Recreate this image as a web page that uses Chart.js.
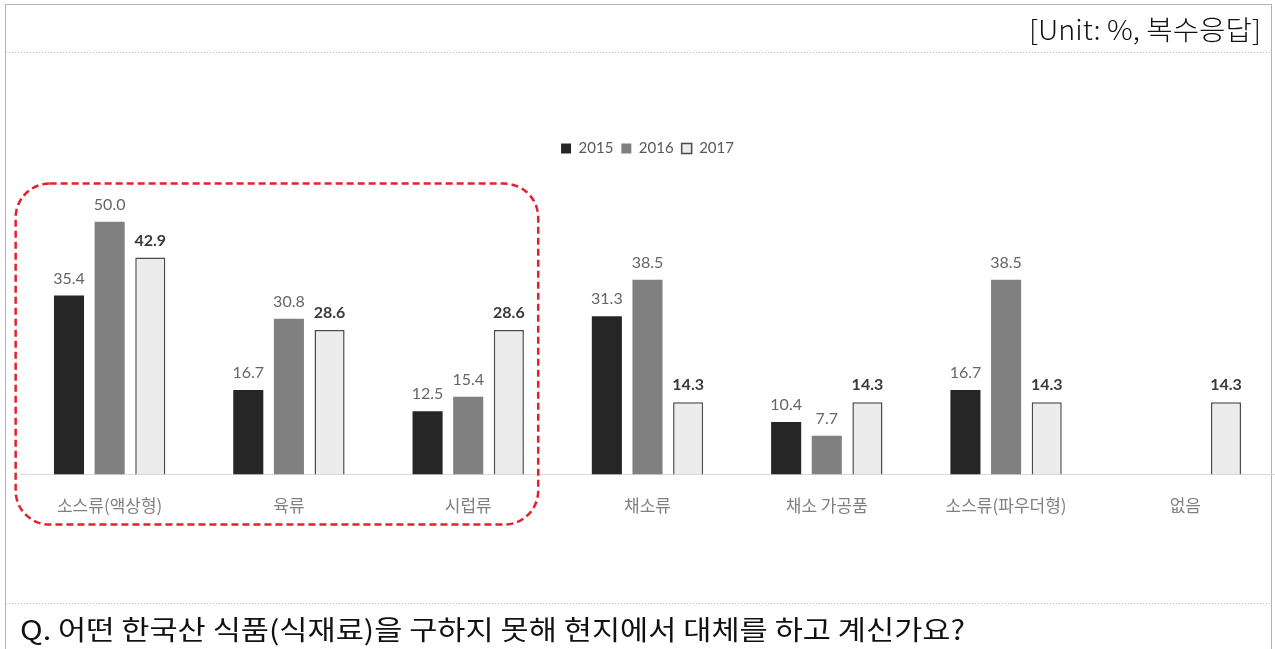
<!DOCTYPE html>
<html>
<head>
<meta charset="utf-8">
<script src="https://cdn.jsdelivr.net/npm/chart.js@4/dist/chart.umd.min.js"></script>
<style>
  html, body { margin: 0; padding: 0; background: #fff; }
  #wrap { position: relative; width: 1275px; height: 649px; }
</style>
</head>
<body>
<div id="wrap"><canvas id="c" width="1275" height="649"></canvas></div>
<script>
// Survey: Korean foods replaced with local substitutes (multiple answers, %)
const categories = ['소스류(액상형)', '육류', '시럽류', '채소류', '채소 가공품', '소스류(파우더형)', '없음'];
const years = ['2015', '2016', '2017'];
const values2015 = [35.4, 16.7, 12.5, 31.3, 10.4, 16.7, null];
const values2016 = [50.0, 30.8, 15.4, 38.5, 7.7, 38.5, null];
const values2017 = [42.9, 28.6, 28.6, 14.3, 14.3, 14.3, 14.3];
const unitNote = '[Unit: %, 복수응답]';
const question = 'Q. 어떤 한국산 식품(식재료)을 구하지 못해 현지에서 대체를 하고 계신가요?';

const KR = '"Noto Sans CJK KR", "Noto Sans", sans-serif';
const NUM = 'Lato, "Noto Sans", sans-serif';

// Text squeezed horizontally to a given width
function fitText(ctx, text, x, y, width, font, color, align) {
  ctx.save();
  ctx.font = font;
  ctx.fillStyle = color;
  ctx.textBaseline = 'middle';
  const w = ctx.measureText(text).width;
  const s = width / w;
  const x0 = align === 'right' ? x - width : x;
  ctx.translate(x0, y);
  ctx.scale(s, 1);
  ctx.textAlign = 'left';
  ctx.fillText(text, 0, 0);
  ctx.restore();
}

// Page frame, header note, separators and footer question
const framePlugin = {
  id: 'frame',
  beforeDraw(chart) {
    const ctx = chart.ctx;
    ctx.save();
    ctx.fillStyle = '#ffffff';
    ctx.fillRect(0, 0, chart.width, chart.height);
    ctx.strokeStyle = '#b4b4b4';
    ctx.lineWidth = 1;
    ctx.strokeRect(5.5, 4.5, 1266, 660);
    ctx.strokeStyle = '#bdbdbd';
    ctx.setLineDash([1, 2]);
    ctx.beginPath();
    ctx.moveTo(6, 52.5); ctx.lineTo(1271, 52.5);
    ctx.moveTo(6, 603.5); ctx.lineTo(1271, 603.5);
    ctx.stroke();
    ctx.restore();
    fitText(ctx, unitNote, 1261, 30, 232, '300 27px ' + KR, '#111', 'right');
    fitText(ctx, question, 20, 630, 945, '27px ' + KR, '#111', 'left');
  }
};

// Value labels above bars and the dashed highlight around the first three groups
const overlayPlugin = {
  id: 'overlay',
  afterDatasetsDraw(chart) {
    const ctx = chart.ctx;
    ctx.save();
    ctx.textAlign = 'center';
    ctx.textBaseline = 'alphabetic';
    chart.data.datasets.forEach((ds, di) => {
      const meta = chart.getDatasetMeta(di);
      meta.data.forEach((bar, i) => {
        const v = ds.data[i];
        if (v === null || v === undefined) return;
        if (di === 2) {
          ctx.font = 'bold 16px ' + NUM;
          ctx.fillStyle = '#3a3a3a';
        } else {
          ctx.font = '16px ' + NUM;
          ctx.fillStyle = '#666666';
        }
        ctx.fillText(v.toFixed(1), bar.x, bar.y - 12);
      });
    });

    const xs = chart.scales.x;
    const ys = chart.scales.y;
    const base = ys.getPixelForValue(0);
    const left = xs.getPixelForValue(0) - 94;
    const right = xs.getPixelForValue(2) + 70;
    const top = base - 291;
    const bottom = base + 50;
    ctx.strokeStyle = '#e3202b';
    ctx.lineWidth = 2.5;
    ctx.setLineDash([7, 4]);
    ctx.beginPath();
    ctx.roundRect(left, top, right - left, bottom - top, 34);
    ctx.stroke();
    ctx.restore();
  }
};

new Chart(document.getElementById('c'), {
  type: 'bar',
  data: {
    labels: categories,
    datasets: [
      { label: years[0], data: values2015, backgroundColor: '#262626', borderColor: '#262626', borderWidth: 0 },
      { label: years[1], data: values2016, backgroundColor: '#808080', borderColor: '#808080', borderWidth: 0 },
      { label: years[2], data: values2017, backgroundColor: '#ececec', borderColor: '#4a4a4a', borderWidth: 1.5 }
    ]
  },
  options: {
    responsive: false,
    devicePixelRatio: 1,
    animation: false,
    layout: { padding: { left: 20, right: 0, top: 133, bottom: 112 } },
    datasets: { bar: { categoryPercentage: 0.68, barPercentage: 0.74 } },
    plugins: {
      legend: {
        position: 'top',
        align: 'center',
        labels: {
          boxWidth: 10,
          boxHeight: 10,
          padding: 8,
          color: '#595959',
          font: { size: 15, family: NUM }
        }
      },
      tooltip: { enabled: false }
    },
    scales: {
      x: {
        grid: { display: false, drawTicks: false },
        border: { display: true, color: '#d9d9d9', width: 1 },
        ticks: { color: '#808080', padding: 21, font: { size: 17, family: KR } }
      },
      y: {
        display: false,
        min: 0,
        max: 61
      }
    }
  },
  plugins: [framePlugin, overlayPlugin]
});
</script>
</body>
</html>
